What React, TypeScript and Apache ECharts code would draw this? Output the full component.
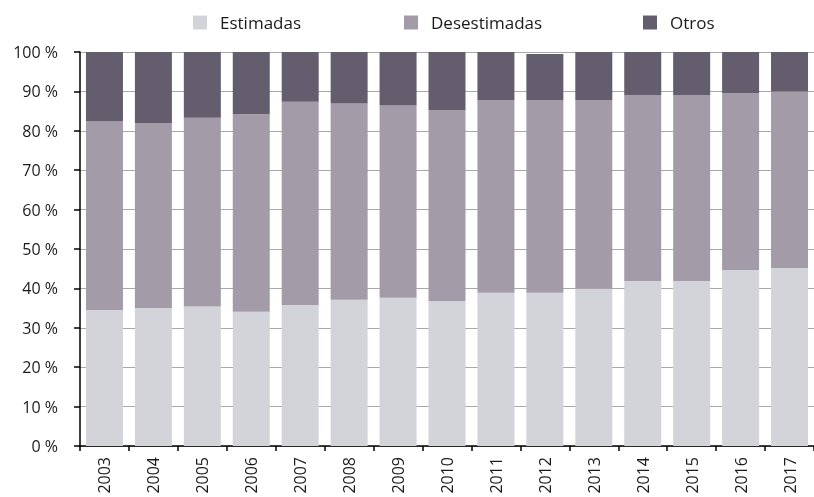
import React, { useEffect, useRef } from "react";
import * as echarts from "echarts";

const years = ["2003","2004","2005","2006","2007","2008","2009","2010","2011","2012","2013","2014","2015","2016","2017"];
const estimadas = [34.5, 35.0, 35.4, 34.1, 35.8, 37.1, 37.6, 36.8, 38.9, 38.9, 39.9, 41.9, 41.9, 44.7, 45.2];
const desestimadas = [48.0, 47.0, 47.9, 50.1, 51.6, 49.8, 48.8, 48.4, 48.9, 48.9, 47.9, 47.2, 47.2, 44.9, 44.8];
const otros = [17.5, 18.0, 16.7, 15.8, 12.6, 13.1, 13.6, 14.8, 12.2, 11.7, 12.2, 10.9, 10.9, 10.4, 10.0];
const seriesNames = ["Estimadas", "Desestimadas", "Otros"];
const colors = ["#d3d4da", "#a39ca8", "#645d6d"];

const FONT = "Open Sans";

export default function App() {
  const ref = useRef<HTMLDivElement>(null);
  useEffect(() => {
    const chart = echarts.init(ref.current!, undefined, { renderer: "svg" });
    const dataSets = [estimadas, desestimadas, otros];
    const legendLefts = [188, 399, 638];
    chart.setOption({
      animation: false,
      color: colors,
      legend: seriesNames.map((n, i) => ({
        data: [n],
        left: legendLefts[i],
        top: 9,
        itemWidth: 14,
        itemHeight: 14,
        icon: "rect",
        textStyle: { fontFamily: FONT, fontSize: 17, color: "#1a1a1a", padding: [0, 0, 0, 8] },
      })),
      grid: { left: 80, right: -3, top: 52, bottom: 51, containLabel: false },
      xAxis: {
        type: "category",
        data: years,
        axisLine: { lineStyle: { color: "#000", width: 1.5 } },
        axisTick: { show: true, length: 5, alignWithLabel: false, lineStyle: { color: "#000", width: 1.5 } },
        axisLabel: { rotate: 90, margin: 11, fontFamily: FONT, fontSize: 16, color: "#1a1a1a" },
      },
      yAxis: {
        type: "value",
        min: 0,
        max: 100,
        interval: 10,
        axisLine: { show: true, lineStyle: { color: "#000", width: 1.5 } },
        axisTick: { show: true, length: 6, lineStyle: { color: "#000", width: 1.5 } },
        splitLine: { lineStyle: { color: "#a9a9a9", width: 1 } },
        axisLabel: { formatter: "{value} %", margin: 22, fontFamily: FONT, fontSize: 16, color: "#1a1a1a" },
      },
      series: seriesNames.map((n, i) => ({
        name: n,
        type: "bar",
        stack: "total",
        barWidth: 37,
        data: dataSets[i],
        itemStyle: { color: colors[i] },
      })),
    });
    return () => chart.dispose();
  }, []);
  return <div ref={ref} style={{ position: "fixed", left: 0, top: 0, width: 814, height: 497 }} />;
}
